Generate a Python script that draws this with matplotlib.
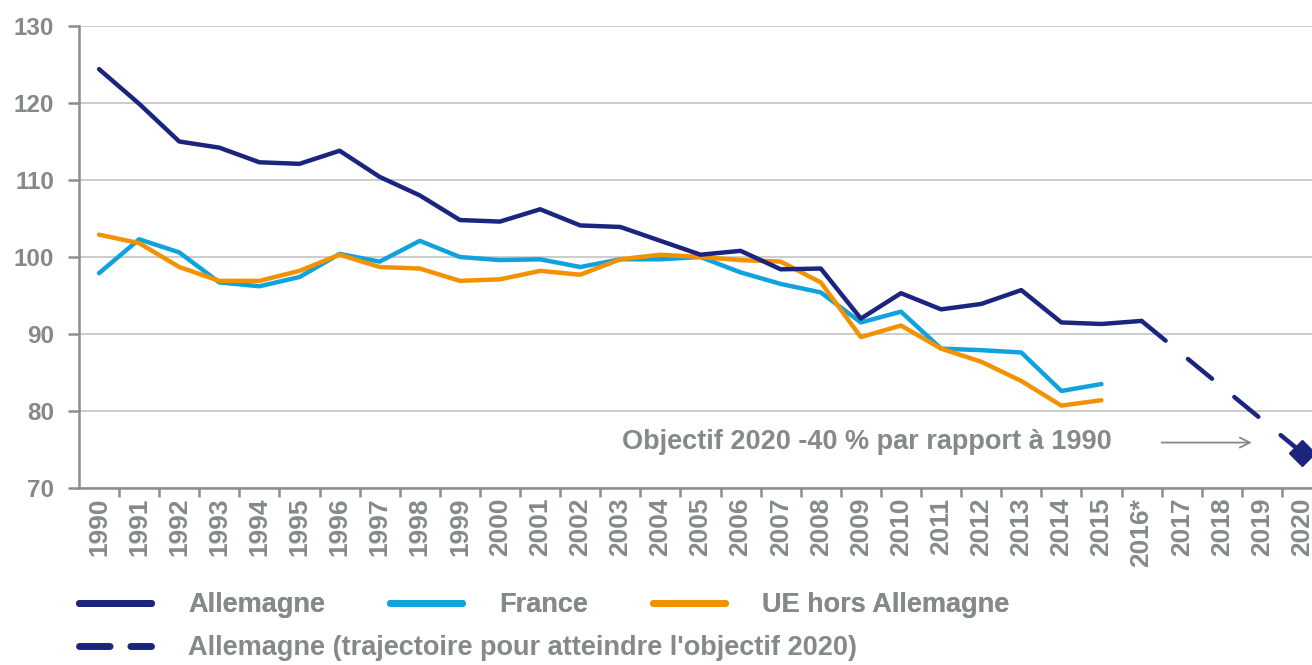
import numpy as np
import matplotlib.pyplot as plt
from matplotlib.lines import Line2D

plt.rcParams['font.family'] = ['Liberation Sans', 'DejaVu Sans']
plt.rcParams['font.weight'] = 'bold'

years = ['1990', '1991', '1992', '1993', '1994', '1995', '1996', '1997', '1998', '1999',
         '2000', '2001', '2002', '2003', '2004', '2005', '2006', '2007', '2008', '2009',
         '2010', '2011', '2012', '2013', '2014', '2015', '2016*', '2017', '2018', '2019', '2020']

allemagne = [124.4, 119.9, 115.0, 114.2, 112.3, 112.1, 113.8, 110.4, 108.0, 104.8,
             104.6, 106.2, 104.1, 103.9, 102.1, 100.3, 100.8, 98.4, 98.5, 92.0,
             95.3, 93.2, 93.9, 95.7, 91.5, 91.3, 91.7]
france = [97.9, 102.3, 100.6, 96.7, 96.2, 97.4, 100.4, 99.4, 102.1, 100.0,
          99.6, 99.7, 98.7, 99.7, 99.7, 100.0, 98.0, 96.5, 95.4, 91.5,
          92.9, 88.1, 87.9, 87.6, 82.6, 83.5]
ue_hors_all = [102.9, 101.8, 98.7, 96.9, 96.9, 98.2, 100.3, 98.7, 98.5, 96.9,
               97.1, 98.2, 97.7, 99.7, 100.3, 100.0, 99.6, 99.4, 96.7, 89.6,
               91.1, 88.1, 86.4, 83.9, 80.7, 81.4]
# trajectoire 2016 -> objectif 2020 (-40 % / 1990)
traj_years = [26, 30]
traj_values = [91.7, 74.6]

navy = '#1b2580'
blue = '#0fa2dc'
orange = '#f39200'
grey = '#848989'
axis_grey = '#8a8e8e'

fig = plt.figure(figsize=(13.12, 6.65), dpi=100)
ax = fig.add_axes([79 / 1312, 1 - 488 / 665, 1243 / 1312, 462 / 665])

x = np.arange(len(years))
ax.plot(x[:len(allemagne)], allemagne, color=navy, lw=3.2, solid_capstyle='round', zorder=4)
ax.plot(x[:len(france)], france, color=blue, lw=3.2, solid_capstyle='round', zorder=3)
ax.plot(x[:len(ue_hors_all)], ue_hors_all, color=orange, lw=3.2, solid_capstyle='round', zorder=3)
ax.plot(traj_years, traj_values, color=navy, lw=3.2, dashes=(7, 6.5), dash_capstyle='round', zorder=4)
ax.plot(traj_years[-1:], traj_values[-1:], marker='D', ms=13, color=navy, ls='none', zorder=5)

ax.set_xlim(-0.5, len(years) - 0.5)
ax.set_ylim(70, 130)
ax.set_yticks(range(70, 131, 10))
ax.yaxis.grid(True, color='#c4c4c4', lw=1.2)
ax.set_axisbelow(True)

ax.set_xticks(x)
ax.set_xticklabels(years, rotation=90, fontsize=19, fontweight='bold', color=grey)
ax.set_xticks(x[:-1] + 0.5, minor=True)
ax.tick_params(axis='x', which='major', length=0, pad=7)
ax.tick_params(axis='x', which='minor', length=6.5, width=1.8, color=axis_grey)
ax.tick_params(axis='y', length=8, width=1.8, color=axis_grey, labelsize=17.5,
               labelcolor=grey, pad=10)
for lab in ax.get_yticklabels():
    lab.set_fontweight('bold')

for side in ['top', 'right']:
    ax.spines[side].set_visible(False)
for side in ['left', 'bottom']:
    ax.spines[side].set_color(axis_grey)
    ax.spines[side].set_linewidth(1.8)

ax.text(25.25, 76.0, 'Objectif 2020 -40 % par rapport à 1990', ha='right', va='center',
        fontsize=19.5, fontweight='bold', color=grey)
ax.annotate('', xy=(28.75, 75.9), xytext=(26.5, 75.9),
            arrowprops=dict(arrowstyle='->', color=grey, lw=1.3, mutation_scale=18,
                            shrinkA=0, shrinkB=0))

handles = [Line2D([], [], color=navy, lw=5, solid_capstyle='round'),
           Line2D([], [], color=blue, lw=5, solid_capstyle='round'),
           Line2D([], [], color=orange, lw=5, solid_capstyle='round')]
leg_kw = dict(loc='center left', frameon=False, fontsize=19.5, handlelength=2.66,
              handletextpad=1.37, borderpad=0, borderaxespad=0, labelcolor=grey)
leg1 = fig.legend(handles, ['Allemagne', 'France', 'UE hors Allemagne'], ncol=3,
                  bbox_to_anchor=(79 / 1312, 1 - 605 / 665), columnspacing=2.4, **leg_kw)
leg2 = fig.legend([Line2D([], [], color=navy, lw=5, dashes=(4.4, 3.0), dash_capstyle='round')],
                  ["Allemagne (trajectoire pour atteindre l'objectif 2020)"],
                  bbox_to_anchor=(79 / 1312, 1 - 648 / 665), **leg_kw)
fig.add_artist(leg1)

fig.savefig('out.png', dpi=100)
